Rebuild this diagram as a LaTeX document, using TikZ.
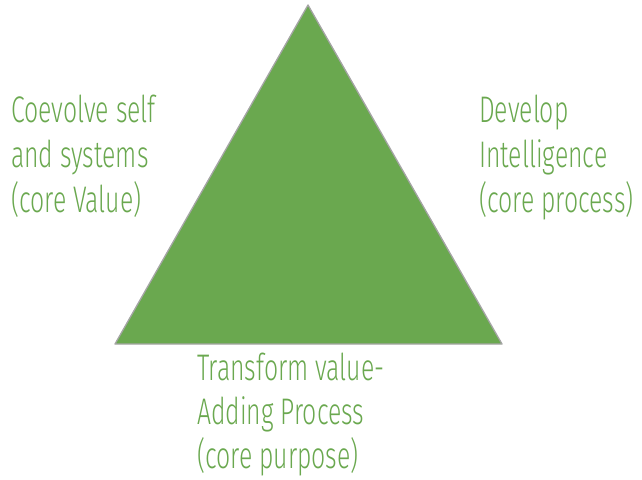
\documentclass[tikz,border=0pt]{standalone}
\usepackage{fontspec}
\setmainfont{Fira Sans}[UprightFont=* Light, FakeStretch=0.67]
\definecolor{tgreen}{RGB}{106,168,79}
\definecolor{tborder}{RGB}{165,165,165}
\definecolor{lgreen}{RGB}{106,168,79}
\begin{document}
\begin{tikzpicture}[x=1pt,y=-1pt,
  lbl/.style={anchor=base west, align=left, inner sep=0pt, text=lgreen,
    font=\fontsize{37}{45}\selectfont}]
\useasboundingbox (0,0) rectangle (642,479);
\coordinate (apex) at (308,5);
\coordinate (bl) at (115,344);
\coordinate (br) at (502,344);
\draw[fill=tgreen, draw=tborder, line width=1.3pt, line join=round] (apex) -- (br) -- (bl) -- cycle;
\node[lbl] (left) at (11,212) {Coevolve self\\and systems\\(core Value)};
\node[lbl] (right) at (479,212) {Develop\\Intelligence\\(core process)};
\node[lbl, font=\fontsize{37}{44}\selectfont] (bottom) at (197,468) {Transform value-\\Adding Process\\(core purpose)};
\end{tikzpicture}
\end{document}
